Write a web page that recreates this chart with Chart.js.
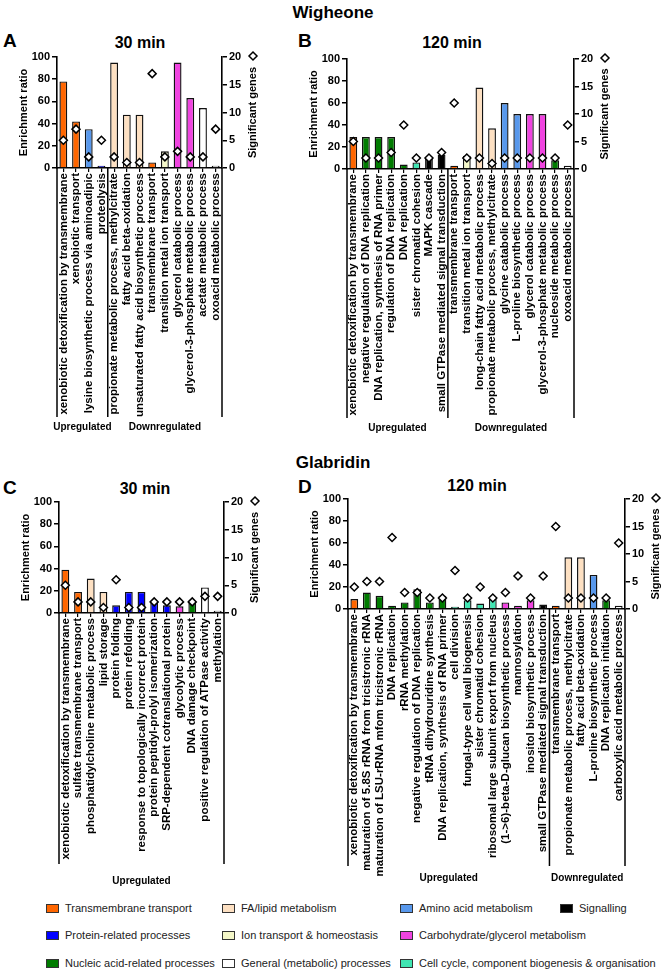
<!DOCTYPE html>
<html>
<head>
<meta charset="utf-8">
<script src="https://cdn.jsdelivr.net/npm/chart.js@4.4.1/dist/chart.umd.min.js"></script>
<style>
  body { margin: 0; background: #fff; font-family: "Liberation Sans", Arial, sans-serif; }
  #page { position: relative; width: 666px; height: 972px; overflow: hidden; }
  .txt { position: absolute; font-weight: bold; color: #000; white-space: nowrap; line-height: 1; }
  .ctr { transform: translate(-50%, -50%); }
  .lt { transform: translate(0, -50%); }
  canvas { position: absolute; }
  .leg { position: absolute; font-size: 11px; color: #222; white-space: nowrap; transform: translate(0, -50%); display: flex; align-items: center; }
  .sw { display: inline-block; width: 11px; height: 7px; border: 1px solid #333; margin-right: 6px; }
</style>
</head>
<body>
<div id="page">
  <div class="txt ctr" style="left:333px;top:12px;font-size:17px">Wigheone</div>
  <div class="txt lt" style="left:3px;top:40px;font-size:19px">A</div>
  <div class="txt ctr" style="left:140px;top:43px;font-size:16px">30 min</div>
  <div class="txt lt" style="left:298px;top:40px;font-size:19px">B</div>
  <div class="txt ctr" style="left:452px;top:43px;font-size:16px">120 min</div>

  <div class="txt ctr" style="left:333px;top:462px;font-size:17px">Glabridin</div>
  <div class="txt lt" style="left:3px;top:487px;font-size:19px">C</div>
  <div class="txt ctr" style="left:145px;top:489px;font-size:16px">30 min</div>
  <div class="txt lt" style="left:298px;top:486px;font-size:19px">D</div>
  <div class="txt ctr" style="left:477px;top:486px;font-size:16px">120 min</div>

  <canvas id="chartA" width="275" height="395" style="left:0;top:45px"></canvas>
  <canvas id="chartB" width="330" height="395" style="left:290px;top:45px"></canvas>
  <canvas id="chartC" width="275" height="412" style="left:0;top:478px"></canvas>
  <canvas id="chartD" width="376" height="412" style="left:290px;top:478px"></canvas>

  <div id="legend"></div>
</div>

<script>
// Wigheone, 30 min
const aTerms = ["xenobiotic detoxification by transmembrane", "xenobiotic transport", "lysine biosynthetic process via aminoadipic", "proteolysis",
  "propionate metabolic process, methylcitrate", "fatty acid beta-oxidation", "unsaturated fatty acid biosynthetic proccess", "transmembrane transport",
  "transition metal ion transport", "glycerol catabolic process", "glycerol-3-phosphate metabolic process", "acetate metabolic process", "oxoacid metabolic process"];
const aRatio = [78, 42, 35, 2, 95, 48, 48, 5, 15, 95, 63, 54, 2];
const aGenes = [5, 7, 2, 5, 2, 1, 1, 17, 2, 3, 2, 2, 7];
const aClass = ["tm", "tm", "aa", "prot", "lipid", "lipid", "lipid", "tm", "ion", "carb", "carb", "gen", "gen"];
const aUp = 4;

// Wigheone, 120 min
const bTerms = ["xenobiotic detoxification by transmembrane", "negative regulation of DNA replication", "DNA replication, synthesis of RNA primer",
  "regulation of DNA replication", "DNA replication", "sister chromatid cohesion", "MAPK cascade", "small GTPase mediated signal transduction",
  "transmembrane transport", "transition metal ion transport", "long-chain fatty acid metabolic process", "propionate metabolic process, methylcitrate",
  "glycine catabolic process", "L-proline biosynthetic process", "glycerol catabolic process", "glycerol-3-phosphate metabolic process",
  "nucleoside metabolic process", "oxoacid metabolic process"];
const bRatio = [29, 29, 29, 29, 4, 6, 10, 13, 3, 12, 74, 37, 60, 50, 50, 50, 8, 3];
const bGenes = [5, 2, 2, 3, 8, 2, 2, 3, 12, 2, 2, 1, 2, 2, 2, 2, 2, 8];
const bClass = ["tm", "nuc", "nuc", "nuc", "nuc", "cell", "sig", "sig", "tm", "ion", "lipid", "lipid", "aa", "aa", "carb", "carb", "nuc", "gen"];
const bUp = 8;

// Glabridin, 30 min
const cTerms = ["xenobiotic detoxification by transmembrane", "sulfate transmembrane transport", "phosphatidylcholine metabolic process", "lipid storage",
  "protein folding", "protein refolding", "response to topologically incorrect protein", "protein peptidyl-prolyl isomerization",
  "SRP-dependent cotranslational protein", "glycolytic process", "DNA damage checkpoint", "positive regulation of ATPase activity", "methylation"];
const cRatio = [39, 19, 31, 19, 7, 19, 19, 10, 7, 6, 9, 23, 2];
const cGenes = [5, 2, 2, 1, 6, 1, 1, 2, 2, 2, 2, 3, 3];
const cClass = ["tm", "tm", "lipid", "lipid", "prot", "prot", "prot", "prot", "prot", "carb", "nuc", "gen", "gen"];
const cUp = 13;

// Glabridin, 120 min
const dTerms = ["xenobiotic detoxification by transmembrane", "maturation of 5.8S rRNA from tricistronic rRNA", "maturation of LSU-rRNA mfom tricistronic rRNA",
  "DNA replication", "rRNA methylation", "negative regulation of DNA replication", "tRNA dihydrouridine synthesis", "DNA replication, synthesis of RNA primer",
  "cell division", "fungal-type cell wall biogenesis", "sister chromatid cohesion", "ribosomal large subunit export from nucleus",
  "(1->6)-beta-D-glucan biosynthetic process", "mannosylation", "inositol biosynthetic process", "small GTPase mediated signal transduction",
  "transmembrane transport", "propionate metabolic process, methylcitrate", "fatty acid beta-oxidation", "L-proline biosynthetic process",
  "DNA replication initiation", "carboxylic acid metabolic process"];
const dRatio = [9, 15, 12, 3, 6, 18, 6, 12, 2, 8, 5, 9, 6, 3, 8, 4, 3, 47, 47, 31, 8, 3];
const dGenes = [4, 5, 5, 13, 3, 3, 2, 2, 7, 2, 4, 2, 3, 6, 2, 6, 15, 2, 2, 2, 2, 12];
const dClass = ["tm", "nuc", "nuc", "nuc", "nuc", "nuc", "nuc", "nuc", "cell", "cell", "cell", "cell", "carb", "carb", "carb", "sig",
  "tm", "lipid", "lipid", "aa", "nuc", "gen"];
const dUp = 16;

// legend
const classKeys = ["tm", "lipid", "aa", "sig", "prot", "ion", "carb", "nuc", "gen", "cell"];
const classNames = ["Transmembrane transport", "FA/lipid metabolism", "Amino acid metabolism", "Signalling", "Protein-related processes",
  "Ion transport & homeostasis", "Carbohydrate/glycerol metabolism", "Nucleic acid-related processes", "General (metabolic) processes",
  "Cell cycle, component biogenesis & organisation"];

const classColor = {
  tm: "#ff6600", lipid: "#fde0c2", aa: "#5898ec", sig: "#000000", prot: "#0000ff",
  ion: "#f4f7c8", carb: "#f044e0", nuc: "#007c00", gen: "#ffffff", cell: "#40e6b2"
};

const FONT = '"Liberation Sans", Arial, sans-serif';
Chart.defaults.font.family = FONT;
Chart.defaults.color = "#000";

function drawDiamond(ctx, x, y, r) {
  ctx.beginPath();
  ctx.moveTo(x, y - r); ctx.lineTo(x + r, y); ctx.lineTo(x, y + r); ctx.lineTo(x - r, y);
  ctx.closePath();
  ctx.fillStyle = "#fff"; ctx.fill();
  ctx.lineWidth = 1.5; ctx.strokeStyle = "#000"; ctx.stroke();
}

// axis extensions, group names, axis titles
const panelDeco = {
  id: "panelDeco",
  afterDraw(chart, args, o) {
    const { ctx, chartArea: ca, scales } = chart;
    const x = scales.x, y2 = scales.y2;
    ctx.save();
    ctx.strokeStyle = "#000";
    ctx.lineWidth = 1.5;
    const xs = [ca.left, ca.right];
    let sep = null;
    if (o.nUp < x.ticks.length) {
      sep = (x.getPixelForTick(o.nUp - 1) + x.getPixelForTick(o.nUp)) / 2;
      xs.push(sep);
    }
    xs.forEach(px => {
      ctx.beginPath(); ctx.moveTo(px, ca.bottom); ctx.lineTo(px, o.lineEnd); ctx.stroke();
    });

    ctx.fillStyle = "#000";
    ctx.textAlign = "center";
    ctx.textBaseline = "middle";
    ctx.font = "bold 10px " + FONT;
    if (sep === null) {
      ctx.fillText("Upregulated", (ca.left + ca.right) / 2, o.groupY);
    } else {
      ctx.fillText("Upregulated", (ca.left + sep) / 2, o.groupY);
      ctx.fillText("Downregulated", (sep + ca.right) / 2, o.groupY);
    }

    ctx.font = "bold 11px " + FONT;
    const midY = (ca.top + ca.bottom) / 2;
    ctx.save();
    ctx.translate(ca.left - 33, midY); ctx.rotate(-Math.PI / 2);
    ctx.fillText("Enrichment ratio", 0, 0);
    ctx.restore();
    ctx.save();
    ctx.translate(ca.right + 31, midY); ctx.rotate(-Math.PI / 2);
    ctx.fillText("Significant genes", 0, 0);
    ctx.restore();

    drawDiamond(ctx, ca.right + 31, y2.getPixelForValue(20) - 1, 4);
    ctx.restore();
  }
};

function makePanel(id, terms, ratio, genes, cls, nUp, box, area, lineEnd, groupY) {
  const leftW = area.left - box.left;
  const rightW = box.left + box.width - area.right;
  const topPad = area.top - box.top;
  const xH = box.top + box.height - area.bottom;
  const axisLine = { display: true, color: "#000", width: 1.6 };
  new Chart(document.getElementById(id), {
    data: {
      labels: terms,
      datasets: [
        {
          type: "line",
          data: genes,
          yAxisID: "y2",
          showLine: false,
          pointStyle: "rectRot",
          pointRadius: 4,
          pointBackgroundColor: "#fff",
          pointBorderColor: "#000",
          pointBorderWidth: 1.5,
          order: 0
        },
        {
          type: "bar",
          data: ratio,
          yAxisID: "y",
          backgroundColor: cls.map(c => classColor[c]),
          borderColor: "#111",
          borderWidth: 1.4,
          barPercentage: 0.62,
          categoryPercentage: 1,
          order: 1
        }
      ]
    },
    options: {
      responsive: false,
      animation: false,
      layout: { padding: { top: topPad, left: 0, right: 0, bottom: 0 } },
      plugins: {
        legend: { display: false },
        tooltip: { enabled: false },
        panelDeco: { nUp: nUp, lineEnd: lineEnd - box.top, groupY: groupY - box.top }
      },
      scales: {
        x: {
          type: "category",
          offset: true,
          grid: { offset: false, drawOnChartArea: false, tickLength: 4, color: "#000", lineWidth: 1.2 },
          border: axisLine,
          ticks: { autoSkip: false, minRotation: 90, maxRotation: 90, padding: 1, font: { size: 11.5, weight: "bold" }, color: "#000" },
          afterFit(s) { s.height = xH; }
        },
        y: {
          position: "left",
          min: 0, max: 100,
          grid: { drawOnChartArea: false, tickLength: 5, color: "#000", lineWidth: 1.5 },
          border: axisLine,
          ticks: { stepSize: 20, padding: 2, font: { size: 11, weight: "bold" }, color: "#000" },
          afterFit(s) { s.width = leftW; }
        },
        y2: {
          position: "right",
          min: 0, max: 20,
          grid: { drawOnChartArea: false, tickLength: 5, color: "#000", lineWidth: 1.5 },
          border: axisLine,
          ticks: { stepSize: 5, padding: 2, font: { size: 11, weight: "bold" }, color: "#000" },
          afterFit(s) { s.width = rightW; }
        }
      }
    },
    plugins: [panelDeco]
  });
}

makePanel("chartA", aTerms, aRatio, aGenes, aClass, aUp,
  { left: 0, top: 45, width: 275, height: 395 }, { left: 57, right: 222, top: 57, bottom: 168 }, 417, 427);
makePanel("chartB", bTerms, bRatio, bGenes, bClass, bUp,
  { left: 290, top: 45, width: 330, height: 395 }, { left: 347, right: 574, top: 59, bottom: 169 }, 418, 428);
makePanel("chartC", cTerms, cRatio, cGenes, cClass, cUp,
  { left: 0, top: 478, width: 275, height: 412 }, { left: 59, right: 224, top: 502, bottom: 613 }, 864, 881);
makePanel("chartD", dTerms, dRatio, dGenes, dClass, dUp,
  { left: 290, top: 478, width: 376, height: 412 }, { left: 348, right: 625, top: 499, bottom: 609 }, 866, 878);

// legend grid: 4 columns x 3 rows, filled column-major like the original
const legCols = [46, 222, 400, 560];
const legRows = [908, 935, 963];
const legPlace = [[0, 0], [1, 0], [2, 0], [3, 0], [0, 1], [1, 1], [2, 1], [0, 2], [1, 2], [2, 2]];
const legend = document.getElementById("legend");
classKeys.forEach((k, i) => {
  const [c, r] = legPlace[i];
  const el = document.createElement("div");
  el.className = "leg";
  el.style.left = legCols[c] + "px";
  el.style.top = legRows[r] + "px";
  el.innerHTML = '<span class="sw" style="background:' + classColor[k] + '"></span>' + classNames[i];
  legend.appendChild(el);
});
</script>
</body>
</html>
